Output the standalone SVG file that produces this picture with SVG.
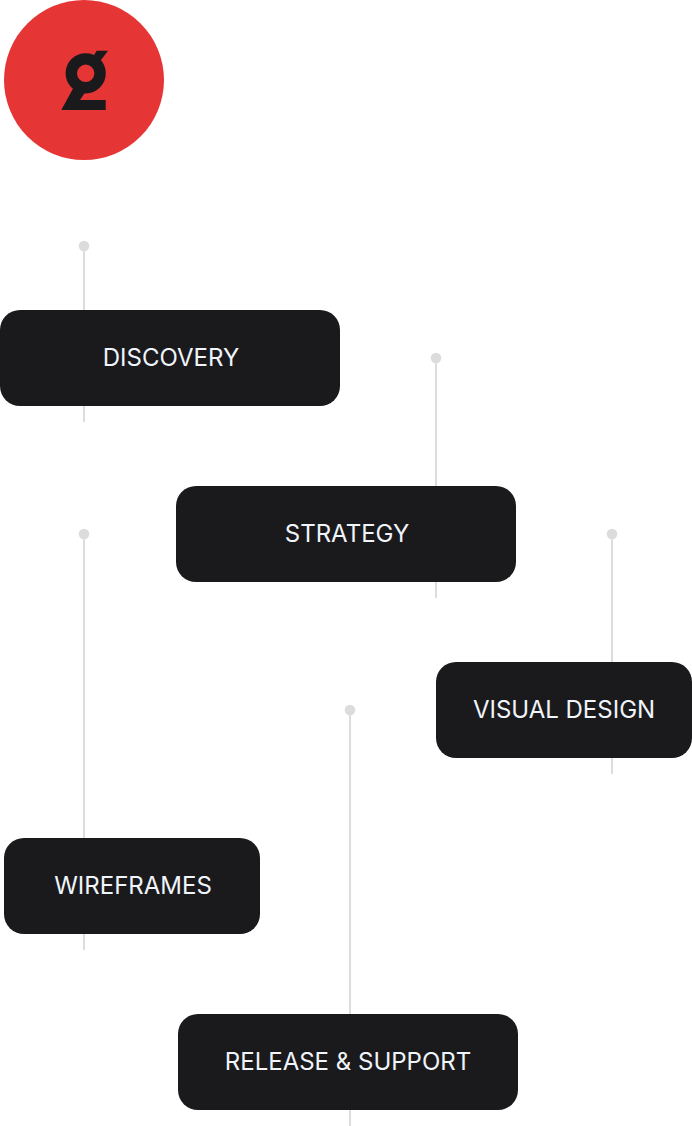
<svg xmlns="http://www.w3.org/2000/svg" width="692" height="1126" viewBox="0 0 692 1126">
<style>
.box{fill:#1a1a1c}
.lbl{font-family:Inter,"Liberation Sans",sans-serif;font-size:24px;fill:#f0f4fb;text-anchor:middle}
.line{stroke:#dcdcdc;stroke-width:2;fill:none}
.dot{fill:#dcdcdc}
</style>
<rect width="692" height="1126" fill="#fff"/>
<g id="connectors">
<circle class="dot" cx="84" cy="246" r="5.3"/><path class="line" d="M84 246V422"/>
<circle class="dot" cx="436" cy="358" r="5.3"/><path class="line" d="M436 358V598"/>
<circle class="dot" cx="612" cy="534" r="5.3"/><path class="line" d="M612 534V774"/>
<circle class="dot" cx="84" cy="534" r="5.3"/><path class="line" d="M84 534V950"/>
<circle class="dot" cx="350" cy="710" r="5.3"/><path class="line" d="M350 710V1126"/>
</g>
<g id="logo">
<circle cx="84" cy="80" r="80" fill="#e63535"/>
<circle cx="85.7" cy="73.3" r="14.4" fill="none" stroke="#1a1a1c" stroke-width="11.4"/>
<path fill="#1a1a1c" d="M96.7 50.7H108L98 64L91 60ZM74 86.7L61.3 110H105.7V100H80L86 91Z"/>
</g>
<g id="discovery"><rect class="box" x="0" y="310" width="340" height="96" rx="20"/><text class="lbl" x="171" y="366">DISCOVERY</text></g>
<g id="strategy"><rect class="box" x="176" y="486" width="340" height="96" rx="20"/><text class="lbl" x="347" y="542">STRATEGY</text></g>
<g id="visual-design"><rect class="box" x="436" y="662" width="256" height="96" rx="20"/><text class="lbl" x="564" y="718">VISUAL DESIGN</text></g>
<g id="wireframes"><rect class="box" x="4" y="838" width="256" height="96" rx="20"/><text class="lbl" x="133" y="894">WIREFRAMES</text></g>
<g id="release-support"><rect class="box" x="178" y="1014" width="340" height="96" rx="20"/><text class="lbl" x="348" y="1070">RELEASE &amp; SUPPORT</text></g>
</svg>
